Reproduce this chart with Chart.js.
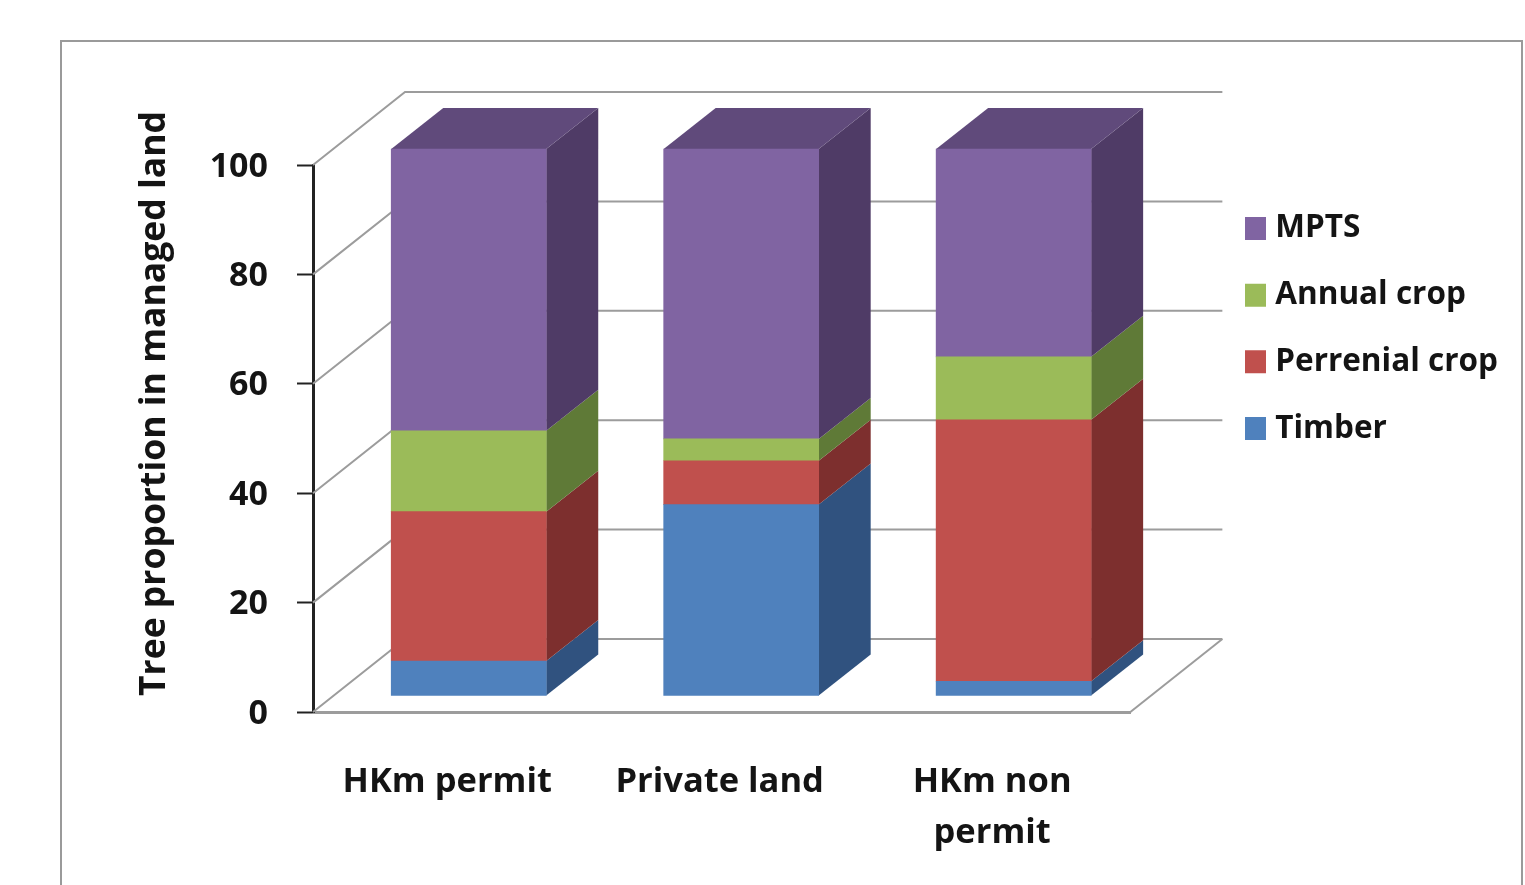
<!DOCTYPE html>
<html><head><meta charset="utf-8">
<style>
html,body{margin:0;padding:0;background:#fff;overflow:hidden;width:1525px;height:885px}
#frame{position:absolute;left:60px;top:40px;width:1459px;height:900px;border:2px solid #9a9a9a;box-sizing:content-box}
#wrap{position:absolute;left:0;top:0;width:1525px;height:885px}
</style>
<script src="https://cdn.jsdelivr.net/npm/chart.js@4"></script>
</head><body>
<div id="frame"></div>
<div id="wrap"><canvas id="c" width="1525" height="885"></canvas></div>
<script>
const categories = [["HKm permit"], ["Private land"], ["HKm non", "permit"]];
const seriesNames = ["Timber", "Perrenial crop", "Annual crop", "MPTS"];
const timber = [6.4, 35, 2.7];
const perrenial = [27.3, 8, 47.8];
const annual = [14.8, 4, 11.5];
const mpts = [51.5, 53, 38];
const frontColors = ["#4f81bd", "#c0504d", "#9bbb59", "#8064a2"];
const sideColors = ["#30527f", "#7d2f2e", "#5f7a37", "#4f3b66"];
const topColor = "#604a7b";
const axisTitle = "Tree proportion in managed land";
const family = "'Open Sans'", weight = "700";
const INK = "#141414", WALL = "#9c9c9c";
const DEPTH_WALL = [92, 73], DEPTH_BAR = [52, 41], SHIFT = [19.5, -16];

const threeD = {
  id: "threeD",
  afterLayout(chart) {
    const l = chart.legend;
    l.left = 1251.5 - l.options.labels.padding;
    l.top = 177.5;
    l.right = 1525; l.width = l.right - l.left;
    l.bottom = 885; l.height = l.bottom - l.top;
    const y = chart.scales.y;
    if (!y._shifted) {
      y._shifted = true;
      const shift = (fn, dy) => function (...a) {
        const c = chart.ctx; c.save(); c.translate(0, dy); fn(...a); c.restore();
      };
      y.drawTitle = shift(y.drawTitle.bind(y), -35);
      y.drawLabels = shift(y.drawLabels.bind(y), 2);
    }
  },
  beforeDatasetsDraw(chart) {
    const c = chart.ctx, x = chart.scales.x, y = chart.scales.y;
    const [dx, dy] = DEPTH_WALL, L = x.left, R = x.right;
    c.save();
    c.strokeStyle = WALL; c.lineWidth = 2;
    y.ticks.forEach(t => {
      const p = y.getPixelForValue(t.value);
      c.beginPath(); c.moveTo(L, p); c.lineTo(L + dx, p - dy); c.lineTo(R + dx, p - dy); c.stroke();
    });
    const b = y.getPixelForValue(0);
    c.beginPath(); c.moveTo(R, b); c.lineTo(R + dx, b - dy); c.stroke();
    c.restore();
    c.save();
    c.translate(SHIFT[0], SHIFT[1]);
    const [bx, by] = DEPTH_BAR;
    chart.data.datasets.forEach((ds, i) => {
      chart.getDatasetMeta(i).data.forEach(bar => {
        const r = bar.x + bar.width / 2;
        c.fillStyle = sideColors[i];
        c.beginPath();
        c.moveTo(r, bar.y); c.lineTo(r + bx, bar.y - by);
        c.lineTo(r + bx, bar.base - by); c.lineTo(r, bar.base);
        c.closePath(); c.fill();
        if (i === chart.data.datasets.length - 1) {
          const l = bar.x - bar.width / 2;
          c.fillStyle = topColor;
          c.beginPath();
          c.moveTo(l, bar.y); c.lineTo(r, bar.y);
          c.lineTo(r + bx, bar.y - by); c.lineTo(l + bx, bar.y - by);
          c.closePath(); c.fill();
        }
      });
    });
  },
  afterDatasetsDraw(chart) { chart.ctx.restore(); }
};

const values = [timber, perrenial, annual, mpts];
new Chart(document.getElementById("c"), {
  type: "bar",
  plugins: [threeD],
  data: {
    labels: categories,
    datasets: seriesNames.map((n, i) => ({
      label: n, data: values[i], backgroundColor: frontColors[i],
      borderWidth: 0, barThickness: 155, clip: false
    }))
  },
  options: {
    responsive: false, animation: false,
    layout: {padding: {left: 0, top: 165, right: 103, bottom: 0}},
    plugins: {
      tooltip: {enabled: false},
      legend: {
        position: "right", align: "start", reverse: true,
        labels: {
          color: INK, font: {family, weight, size: 31.5}, padding: 35.2, boxWidth: 8, boxHeight: 10,
          generateLabels(chart) {
            return Chart.defaults.plugins.legend.labels.generateLabels(chart).map(it => ({
              ...it, strokeStyle: it.fillStyle, lineWidth: 13
            }));
          }
        }
      }
    },
    scales: {
      x: {
        stacked: true,
        afterFit(s) { s.height = 173; },
        grid: {display: true, drawOnChartArea: false, drawTicks: false},
        border: {display: true, color: WALL, width: 3},
        ticks: {color: INK, font: {family, weight, size: 34.5, lineHeight: 1.5}, padding: 44, labelOffset: -2, autoSkip: false, maxRotation: 0, minRotation: 0}
      },
      y: {
        stacked: true, min: 0, max: 100,
        afterFit(s) { s.width = 313; },
        grid: {drawOnChartArea: false, drawTicks: true, tickLength: 16, tickColor: "#222", tickWidth: 2},
        border: {display: true, color: "#222", width: 3},
        ticks: {color: INK, font: {family, weight, size: 34}, stepSize: 20, padding: 29},
        title: {display: true, text: axisTitle, color: INK, font: {family, weight, size: 35.5}, padding: {top: 134, bottom: 0}}
      }
    }
  }
});
</script>
</body></html>
